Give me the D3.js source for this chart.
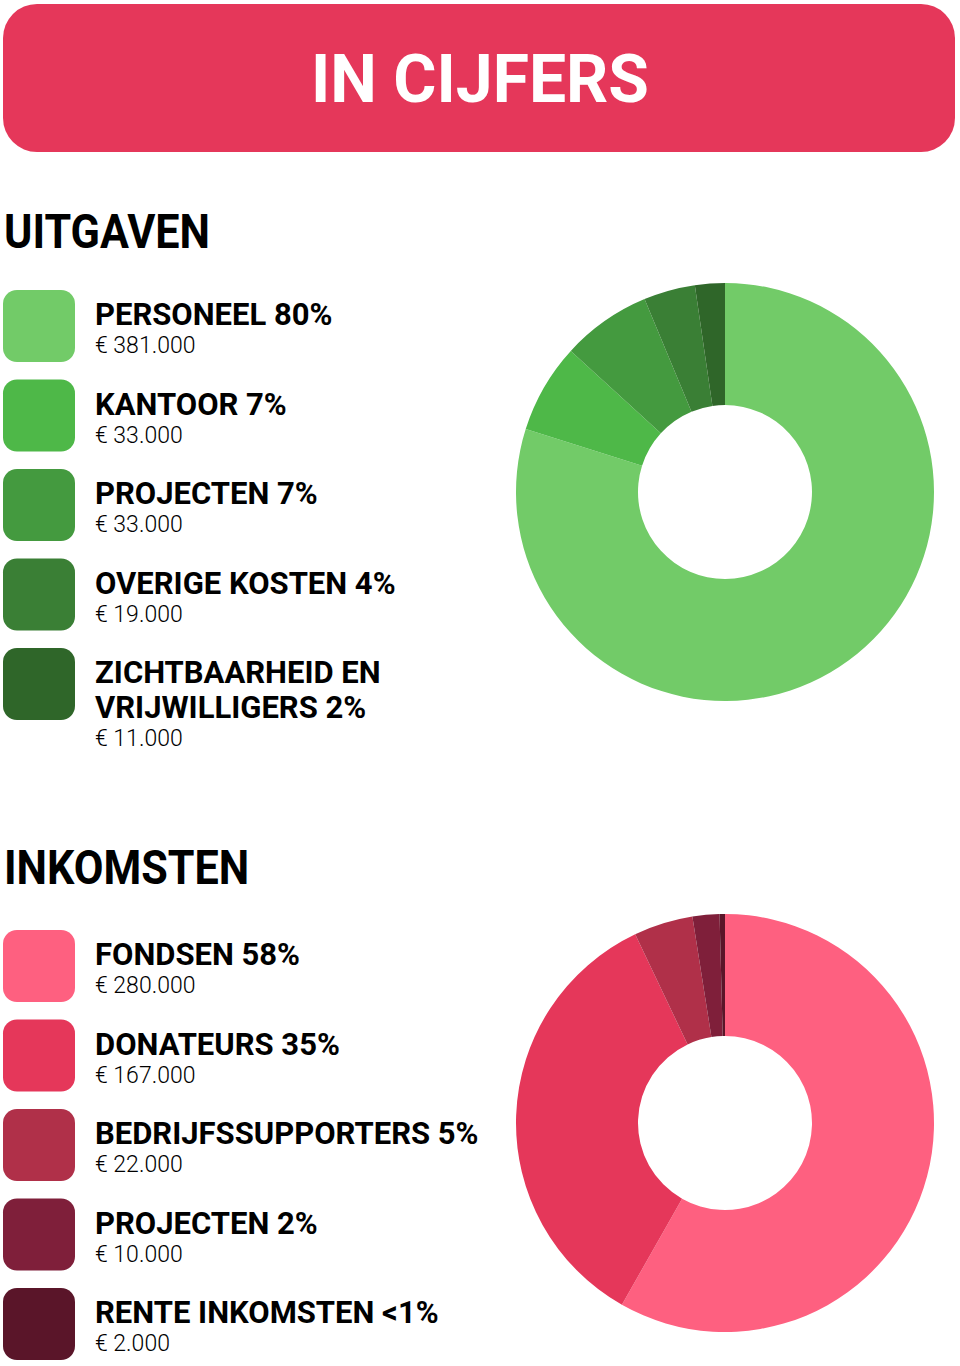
<!DOCTYPE html>
<html>
<head>
<meta charset="utf-8">
<script src="https://cdn.jsdelivr.net/npm/d3@7"></script>
<style>
  body { margin: 0; background: #fff; }
  svg { display: block; }
</style>
</head>
<body>
<svg width="960" height="1366"></svg>
<script>
// two donuts (uitgaven / inkomsten) with a legend of rounded swatches each
const title = "IN CIJFERS"

const costNames   = ["PERSONEEL", "KANTOOR", "PROJECTEN", "OVERIGE KOSTEN", "ZICHTBAARHEID EN VRIJWILLIGERS"]
const costValues  = [381000, 33000, 33000, 19000, 11000]
const costColors  = ["#72cb68", "#4eb848", "#449a3f", "#3a7f35", "#2f6629"]

const incomeNames  = ["FONDSEN", "DONATEURS", "BEDRIJFSSUPPORTERS", "PROJECTEN", "RENTE INKOMSTEN"]
const incomeValues = [280000, 167000, 22000, 10000, 2000]
const incomeColors = ["#fe6080", "#e5375a", "#b03049", "#7f1f3a", "#5a1529"]

const svg = d3.select("svg")
const width = +svg.attr("width")

const headFont = "Roboto, 'DejaVu Sans', sans-serif"

//euro in dutch notation: € 381.000
const nl = d3.formatLocale({ decimal: ",", thousands: ".", grouping: [3], currency: ["€ ", ""] })
const euro = nl.format("$,")
const pct = v => v < 0.01 ? "<1%" : Math.round(v * 100) + "%"

// header bar
svg.append("rect")
  .attr("x", 3).attr("y", 4)
  .attr("width", 952).attr("height", 148)
  .attr("rx", 34)
  .attr("fill", "#e5375a")

svg.append("text")
  .attr("x", width / 2).attr("y", 102)
  .attr("text-anchor", "middle")
  .attr("fill", "#fff")
  .style("font-family", headFont).style("font-weight", 700)
  .style("font-size", "66px")
  .text(title)

drawBlock("UITGAVEN", 248, 290, costNames, costValues, costColors, [725, 492])
drawBlock("INKOMSTEN", 884, 930, incomeNames, incomeValues, incomeColors, [725, 1123])

function drawBlock(heading, headY, rowTop, names, values, colors, center) {
  const total = d3.sum(values)
  const g = svg.append("g")

  // section heading, a bit condensed like the DIN original
  g.append("text")
    .attr("transform", `translate(4,${headY}) scale(0.88,1)`)
    .attr("fill", "#000")
    .style("font-family", headFont).style("font-weight", 700)
    .style("font-size", "49px")
    .text(heading)

  const rowStep = 89.5
  names.forEach((name, i) => {
    const top = rowTop + i * rowStep
    g.append("rect")
      .attr("x", 3).attr("y", top)
      .attr("width", 72).attr("height", 72)
      .attr("rx", 14)
      .attr("fill", colors[i])

    // wrap the bold label to max 400px
    const words = (name + " " + pct(values[i] / total)).split(" ")
    let lineY = top + 35
    let line = []
    let t = g.append("text").attr("x", 95).attr("y", lineY)
      .style("font-family", headFont).style("font-weight", 700).style("font-size", "31px")
    words.forEach(w => {
      line.push(w)
      t.text(line.join(" "))
      if (t.node().getComputedTextLength() > 400 && line.length > 1) {
        line.pop()
        t.text(line.join(" "))
        line = [w]
        lineY += 35
        t = g.append("text").attr("x", 95).attr("y", lineY)
          .style("font-family", headFont).style("font-weight", 700).style("font-size", "31px")
          .text(w)
      }
    })

    g.append("text")
      .attr("x", 95).attr("y", lineY + 28)
      .style("font-family", headFont).style("font-weight", 300).style("font-size", "23px")
      .text(euro(values[i]))
  })

  // donut, clockwise from 12 o'clock in data order
  const pie = d3.pie().sort(null).value(d => d)
  const arc = d3.arc().innerRadius(87).outerRadius(209)
  g.append("g")
    .attr("transform", `translate(${center[0]},${center[1]})`)
    .selectAll("path")
    .data(pie(values))
    .join("path")
      .attr("d", arc)
      .attr("fill", (d, i) => colors[i])
}
</script>
</body>
</html>
